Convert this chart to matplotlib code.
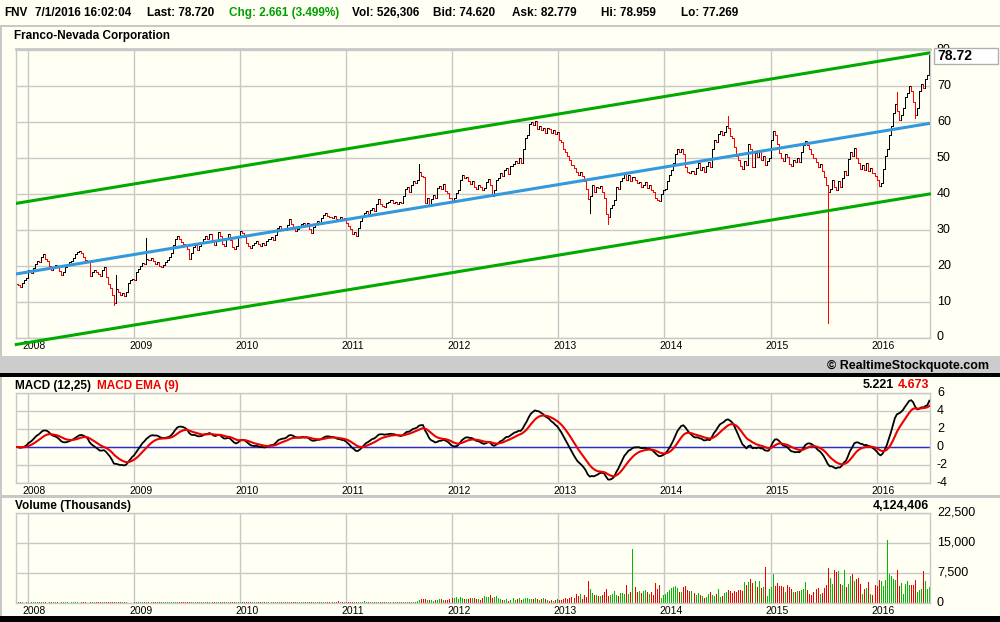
import numpy as np
import pandas as pd
import matplotlib
matplotlib.use("Agg")
import matplotlib.pyplot as plt
import matplotlib.dates as mdates
from matplotlib.patches import Rectangle
from matplotlib.transforms import ScaledTranslation

plt.rcParams['font.family'] = ['Liberation Sans', 'DejaVu Sans']

# weekly closes (first week ends 2007-11-23)
close_2007 = [15.0, 14.6, 14.3, 15.3, 16.0, 16.8]
close_2008 = [19.0, 18.0, 19.5, 20.5, 21.5, 21.0, 22.5, 23.3, 22.0, 21.5,
              20.0, 18.8, 19.5, 20.2, 19.8, 18.6, 17.6, 18.4, 19.6, 20.3,
              21.2, 21.5, 22.3, 23.2, 23.8, 24.2, 23.5, 22.4, 21.8, 21.0,
              17.2, 18.3, 19.0, 18.4, 17.8, 17.2, 18.8, 19.6, 17.0, 15.0,
              14.0, 12.0, 9.6, 13.6, 12.8, 12.0, 12.6, 11.6, 12.8, 15.4,
              16.2, 16.5]
close_2009 = [16.2, 18.3, 19.3, 20.0, 20.8, 20.5, 22.0, 21.6, 22.2, 21.3,
              20.6, 21.2, 20.0, 19.6, 20.2, 21.2, 21.8, 22.4, 23.6, 25.9,
              27.6, 28.4, 27.4, 26.6, 26.2, 25.7, 24.8, 22.0, 23.5, 25.2,
              25.8, 24.5, 25.5, 26.4, 27.5, 28.3, 27.6, 28.8, 26.6, 25.8,
              27.0, 29.4, 28.3, 26.0, 25.6, 27.5, 29.0, 27.3, 25.4, 24.8,
              25.5, 28.2]
close_2010 = [29.8, 29.2, 28.0, 26.3, 25.5, 25.0, 25.8, 26.3, 27.0, 26.0,
              25.5, 26.5, 25.8, 27.0, 27.6, 28.0, 27.2, 28.6, 30.5, 31.2,
              29.9, 30.2, 30.0, 31.5, 33.0, 31.8, 30.6, 29.8, 30.4, 31.2,
              31.8, 32.0, 31.5, 32.0, 30.4, 29.3, 30.8, 31.8, 32.6, 32.0,
              33.4, 34.2, 34.6, 34.0, 33.6, 33.2, 33.8, 33.0, 32.6, 33.5,
              32.8, 33.4, 32.0]
close_2011 = [31.0, 30.2, 29.0, 29.5, 28.4, 30.5, 32.6, 33.8, 34.8, 35.2,
              34.5, 35.6, 36.0, 35.4, 37.2, 38.5, 37.3, 36.8, 36.4, 37.6,
              37.8, 38.2, 37.6, 37.9, 37.2, 37.8, 37.5, 39.5, 41.4, 42.0,
              40.5, 42.5, 43.5, 43.0, 43.8, 46.0, 45.0, 44.8, 37.5, 38.8,
              36.8, 38.5, 39.8, 39.0, 41.6, 42.3, 41.5, 42.8, 40.8, 40.2,
              39.0, 38.0]
close_2012 = [39.0, 40.2, 41.0, 43.8, 45.3, 44.5, 44.8, 43.6, 42.8, 43.5,
              42.0, 41.3, 42.5, 42.0, 41.0, 41.6, 43.4, 44.2, 42.5, 39.5,
              41.2, 43.8, 44.5, 45.8, 45.0, 46.8, 47.2, 45.6, 47.8, 48.4,
              49.2, 48.5, 50.0, 48.6, 52.5, 55.5, 56.5, 59.5, 60.0, 59.2,
              60.2, 58.0, 59.0, 57.8, 58.2, 57.0, 58.4, 58.0, 57.0, 57.8,
              56.8, 57.2]
close_2013 = [55.0, 54.5, 52.5, 51.8, 50.6, 49.5, 48.0, 47.3, 46.2, 45.4,
              46.0, 45.0, 43.5, 41.5, 38.5, 39.5, 42.5, 40.6, 42.0, 41.8,
              42.3, 40.5, 39.0, 34.5, 33.5, 36.2, 37.0, 38.2, 42.0, 41.5,
              43.6, 44.5, 45.6, 44.0, 45.2, 43.5, 44.6, 44.0, 43.0, 43.4,
              42.0, 42.6, 43.2, 41.8, 42.5, 41.2, 40.5, 39.0, 38.2, 38.0,
              40.0, 41.0]
close_2014 = [41.5, 43.5, 45.2, 46.8, 48.5, 51.0, 52.6, 51.8, 52.5, 51.0,
              47.5, 46.0, 45.8, 46.5, 45.6, 47.2, 48.5, 46.8, 47.5, 46.0,
              47.8, 49.0, 47.5, 52.5, 55.0, 54.5, 56.8, 57.5, 56.5, 57.2,
              59.0, 58.2, 56.0, 55.5, 53.0, 50.5, 49.5, 47.8, 47.0, 49.2,
              48.0, 54.0, 52.5, 47.5, 51.5, 50.2, 52.0, 49.5, 50.5, 48.0,
              49.2, 50.0]
close_2015 = [55.0, 57.5, 56.5, 53.8, 51.5, 50.0, 49.2, 51.0, 50.4, 48.2,
              47.8, 49.4, 48.8, 50.0, 49.0, 51.8, 53.5, 54.8, 53.6, 52.5,
              51.2, 50.0, 49.0, 47.5, 48.2, 46.5, 44.8, 42.5, 40.6, 41.5,
              43.8, 42.0, 41.2, 43.5, 42.0, 44.5, 46.5, 45.2, 49.8, 51.8,
              50.6, 52.8, 50.0, 48.5, 47.0, 48.0, 46.6, 48.6, 46.5, 47.2,
              45.8, 45.0]
close_2016 = [44.0, 42.2, 43.0, 47.0, 50.5, 52.5, 56.5, 58.8, 62.5, 65.0,
              63.0, 60.5, 62.0, 64.0, 67.0, 68.0, 70.0, 68.5, 65.5, 62.0,
              64.0, 68.5, 70.5, 69.5, 72.0, 73.0, 78.72]

# wicks that stick out well beyond the open/close range
wick_high_dates = ["2008-10-31", "2009-02-13", "2011-09-09", "2014-08-08", "2016-03-11"]
wick_high_values = [17.5, 27.8, 48.3, 61.7, 68.4]
wick_low_dates = ["2008-10-24", "2013-04-19", "2013-06-21", "2015-07-17", "2016-05-13"]
wick_low_values = [9.2, 34.6, 31.7, 4.2, 61.0]

# weekly volume, thousands
vol_2007 = [4100, 300, 170, 140, 120, 150]
vol_2008 = [180, 150, 160, 140, 170, 130, 150, 160, 140, 120,
            150, 130, 140, 160, 150, 120, 130, 140, 150, 130,
            120, 140, 150, 130, 140, 120, 130, 150, 140, 120,
            160, 150, 140, 130, 150, 170, 160, 180, 190, 200,
            210, 180, 190, 170, 160, 150, 140, 160, 130, 120,
            110, 120]
vol_2009 = [150, 160, 170, 180, 160, 150, 170, 160, 150, 140,
            150, 160, 140, 150, 160, 170, 150, 160, 180, 200,
            330, 220, 180, 170, 160, 150, 170, 160, 150, 140,
            150, 160, 170, 180, 160, 150, 160, 170, 150, 160,
            170, 180, 170, 160, 150, 160, 170, 150, 140, 150,
            130, 140]
vol_2010 = [180, 170, 190, 200, 180, 170, 160, 170, 180, 160,
            150, 170, 160, 170, 180, 190, 200, 210, 220, 200,
            190, 180, 170, 180, 190, 200, 210, 200, 190, 200,
            210, 220, 350, 230, 220, 210, 200, 220, 240, 260,
            250, 330, 240, 250, 350, 260, 250, 270, 380, 300,
            260, 250, 230]
vol_2011 = [280, 260, 270, 300, 330, 300, 290, 310, 380, 320,
            300, 280, 270, 260, 280, 300, 260, 250, 240, 250,
            260, 240, 250, 230, 240, 250, 240, 230, 250, 260,
            270, 280, 300, 350, 420, 700, 900, 1050, 900, 850,
            780, 650, 620, 700, 760, 900, 1100, 850, 780, 820,
            1000, 1300]
vol_2012 = [1200, 1500, 1000, 1400, 1250, 1050, 1100, 1000, 1200, 1300,
            1350, 950, 1000, 800, 1300, 1650, 1450, 1600, 1900, 1200,
            1400, 1700, 1300, 1000, 700, 650, 900, 600, 700, 1200,
            800, 1000, 1200, 700, 1050, 1200, 1250, 1000, 1100, 1100,
            1200, 1000, 700, 1100, 1150, 1000, 800, 600, 700, 600,
            800, 900]
vol_2013 = [800, 700, 1000, 1200, 1100, 1300, 1400, 1200, 2300, 1800,
            2200, 1000, 2000, 1600, 5500, 3500, 2400, 2100, 2000, 1700,
            1800, 2000, 2800, 3500, 1700, 1900, 2200, 3000, 2100, 1800,
            2400, 2400, 2200, 4500, 2300, 2700, 13500, 4000, 2700, 3000,
            2600, 3000, 3200, 2700, 2200, 2800, 2000, 4900, 3400, 4500,
            1200, 2000]
vol_2014 = [2200, 2700, 3200, 3700, 4000, 4200, 3700, 2800, 2700, 4000,
            4300, 3200, 2900, 2900, 2500, 2000, 2600, 2000, 1800, 1300,
            1600, 2200, 2700, 2000, 1800, 2300, 3500, 1600, 1800, 2400,
            2800, 3300, 3000, 2500, 3000, 2800, 3300, 3300, 3000, 5200,
            4500, 5300, 6000, 5000, 5500, 4000, 5500, 3700, 4000, 9000,
            1800, 3600]
vol_2015 = [4000, 7250, 4300, 5000, 4300, 4300, 4000, 2800, 4500, 3900,
            3400, 2800, 2700, 2900, 2900, 3300, 3600, 5200, 3300, 2200,
            2100, 2800, 3400, 3700, 2300, 2500, 3800, 4600, 8800, 6200,
            4700, 8250, 7800, 8000, 4800, 4600, 8250, 4000, 4700, 6800,
            7250, 5600, 5900, 6300, 4800, 2300, 3500, 3700, 5300, 2300,
            2000, 4500]
vol_2016 = [4300, 5800, 5600, 4300, 5800, 15750, 7250, 6800, 6000, 5800,
            8250, 4300, 4900, 2300, 4700, 5400, 4400, 4600, 4600, 5800,
            2800, 3200, 3600, 8000, 5500, 3500, 4124]

# regression channel: centre line at first / last bar, half width
channel_mid = [17.8, 59.6]
channel_half = 19.6

header = [(4, "FNV", "black"), (35, "7/1/2016 16:02:04", "black"),
          (147, "Last: 78.720", "black"), (229, "Chg: 2.661 (3.499%)", "#00A000"),
          (352, "Vol: 526,306", "black"), (433, "Bid: 74.620", "black"),
          (512, "Ask: 82.779", "black"), (601, "Hi: 78.959", "black"),
          (681, "Lo: 77.269", "black")]

closes = np.array(close_2007 + close_2008 + close_2009 + close_2010 + close_2011
                  + close_2012 + close_2013 + close_2014 + close_2015 + close_2016)
volume = np.array(vol_2007 + vol_2008 + vol_2009 + vol_2010 + vol_2011
                  + vol_2012 + vol_2013 + vol_2014 + vol_2015 + vol_2016)
dates = pd.date_range("2007-11-23", periods=len(closes), freq="W-FRI")
x = mdates.date2num(dates)

opens = np.r_[closes[0], closes[:-1]]
highs = np.maximum(opens, closes)
lows = np.minimum(opens, closes)
for d, v in zip(wick_high_dates, wick_high_values):
    highs[dates.get_loc(pd.Timestamp(d))] = v
for d, v in zip(wick_low_dates, wick_low_values):
    lows[dates.get_loc(pd.Timestamp(d))] = v
up = closes >= opens

s = pd.Series(closes)
macd = s.ewm(span=12, adjust=False).mean() - s.ewm(span=25, adjust=False).mean()
signal = macd.ewm(span=9, adjust=False).mean()

BG = "#FFFFF4"
GRID = "#C8C8C8"
W, H = 1000, 622
years = list(range(2008, 2017))
year_x = [mdates.date2num(pd.Timestamp(f"{y}-01-01")) for y in years]
xmin = mdates.date2num(pd.Timestamp("2007-11-22"))
xmax = mdates.date2num(pd.Timestamp("2016-07-03"))


def box(left, top, right, bottom):
    return [left / W, 1 - bottom / H, (right - left) / W, (bottom - top) / H]


def fy(y):
    return 1 - y / H


fig = plt.figure(figsize=(10, 6.22), dpi=100)
fig.patch.set_facecolor(BG)
lift = ScaledTranslation(0, 2 / 100, fig.dpi_scale_trans)


def style(a, ticks, labels):
    a.set_facecolor(BG)
    a.set_xlim(xmin, xmax)
    a.set_xticks(year_x)
    a.tick_params(axis="x", length=0, labelbottom=False)
    a.yaxis.tick_right()
    a.set_yticks(ticks)
    a.set_yticklabels(labels)
    a.tick_params(axis="y", length=0, pad=5, labelsize=9)
    for lab in a.get_yticklabels():
        lab.set_transform(lab.get_transform() + lift)
    a.grid(True, color=GRID, lw=1)
    a.set_axisbelow(True)
    for sp in a.spines.values():
        sp.set_color(GRID)
        sp.set_linewidth(1)
    for yr, xv in zip(years, year_x):
        a.annotate(str(yr), (xv, 0), xycoords=("data", "axes fraction"),
                   xytext=(-5, -3), textcoords="offset pixels",
                   ha="left", va="top", fontsize=7.5)


# price panel (1 px bars, no smoothing)
PX = 0.72
ax = fig.add_axes(box(16, 49, 930, 338))
ax.set_ylim(0, 80.28)
style(ax, range(0, 81, 10), [str(v) for v in range(0, 81, 10)])
ax.spines["top"].set_linewidth(2)
cols = np.where(up, "black", "#FF0000")
ax.vlines(x, lows, highs, colors=cols, lw=PX, zorder=2, antialiased=False)
ax.hlines(opens, x - 3.6, x, colors=cols, lw=PX, zorder=2, antialiased=False)
ax.hlines(closes, x, x + 3.6, colors=cols, lw=PX, zorder=2, antialiased=False)
ends = [x[0], x[-1]]
mid = np.array(channel_mid)
ax.plot(ends, mid, color="#3399DD", lw=2.2, zorder=3)
ax.plot(ends, mid + channel_half, color="#00AA00", lw=2.2, zorder=3)
ax.plot(ends, mid - channel_half, color="#00AA00", lw=2.2, zorder=3, clip_on=False)

# MACD panel
am = fig.add_axes(box(16, 393, 930, 483))
am.set_ylim(-4, 6)
style(am, range(-4, 7, 2), [str(v) for v in range(-4, 7, 2)])
am.axhline(0, color="#2B2BCC", lw=1, zorder=2)
am.plot(x, macd, color="black", lw=1.3, zorder=3)
am.plot(x, signal, color="#EE0000", lw=1.5, zorder=4)

# volume panel
av = fig.add_axes(box(16, 513, 930, 603))
av.set_ylim(0, 22500)
style(av, [0, 7500, 15000, 22500], ["0", "7,500", "15,000", "22,500"])
av.vlines(x, 0, volume, colors=np.where(up, "#00BB00", "#EE0000"), lw=PX,
          zorder=2, antialiased=False)


# frame pieces
def rect(left, top, right, bottom, color):
    fig.add_artist(Rectangle((left / W, fy(bottom)), (right - left) / W, (bottom - top) / H,
                             transform=fig.transFigure, color=color, lw=0, zorder=1))


rect(0, 25, 1000, 27, GRID)
rect(0, 26, 2, 616, GRID)
rect(0, 356, 1000, 373, "#CCCCCC")
rect(0, 373, 1000, 377, "black")
rect(0, 495, 1000, 498, GRID)
rect(0, 616, 1000, 622, "black")

for xp, txt, c in header:
    fig.text(xp / W, fy(13), txt, ha="left", va="center", fontsize=8.5,
             fontweight="bold", color=c)

fig.text(14 / W, fy(36), "Franco-Nevada Corporation", ha="left", va="center",
         fontsize=8.5, fontweight="bold")
fig.text(989 / W, fy(366), "\u00a9 RealtimeStockquote.com", ha="right", va="center",
         fontsize=9, fontweight="bold")
fig.text(15 / W, fy(386), "MACD (12,25)", ha="left", va="center", fontsize=8.5, fontweight="bold")
fig.text(97 / W, fy(386), "MACD EMA (9)", ha="left", va="center", fontsize=8.5,
         fontweight="bold", color="#EE0000")
fig.text(894 / W, fy(385), "5.221", ha="right", va="center", fontsize=9, fontweight="bold")
fig.text(929 / W, fy(385), "4.673", ha="right", va="center", fontsize=9, fontweight="bold",
         color="#EE0000")
fig.text(15 / W, fy(506), "Volume (Thousands)", ha="left", va="center", fontsize=8.5,
         fontweight="bold")
fig.text(929 / W, fy(506), "4,124,406", ha="right", va="center", fontsize=9, fontweight="bold")

# last price tag
fig.add_artist(Rectangle((934 / W, fy(64)), 64 / W, 16 / H, transform=fig.transFigure,
                         fc="white", ec="#B0B0B0", lw=1, zorder=5))
fig.text(937 / W, fy(56), f"{closes[-1]:.2f}", ha="left", va="center", fontsize=10,
         fontweight="bold", zorder=6)

fig.savefig("out.png", dpi=100, facecolor=BG)
